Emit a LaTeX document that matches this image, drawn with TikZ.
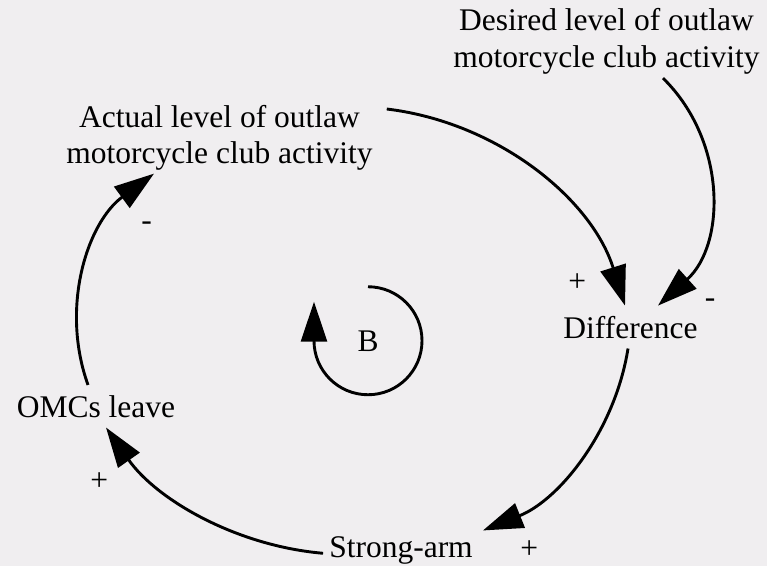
\documentclass[tikz,border=0pt]{standalone}
\usepackage{fontspec}
\setmainfont{Liberation Serif}
\usetikzlibrary{arrows.meta}
\definecolor{paper}{RGB}{240,238,240}
\tikzset{
  var/.style={font=\fontsize{31.5}{36.5}\selectfont, align=center, inner xsep=10pt, inner ysep=10pt},
  sign/.style={font=\fontsize{31.5}{36.5}\selectfont, inner sep=0pt},
  link/.style={line width=2.9pt, -{Triangle[length=40pt,width=26pt]}}
}
\begin{document}
\begin{tikzpicture}[x=1pt,y=-1pt]
  \useasboundingbox[fill=paper] (0,0) rectangle (767,566);
  \node[var,inner xsep=14pt,inner ysep=3pt] (actual) at (219.5,137.7) {Actual level of outlaw\\motorcycle club activity};
  \node[var,inner ysep=3pt] (desired) at (606.5,41.2) {Desired level of outlaw\\motorcycle club activity};
  \node[var,anchor=base] (diff) at (630.5,338) {Difference};
  \node[var,anchor=base] (strong) at (401,557) {Strong-arm};
  \node[var,anchor=base] (omc) at (96,417) {OMCs leave};
  \node[var,anchor=base] (loop) at (368,351) {B};
  \draw[link] ([yshift=28.7pt]actual.east) .. controls +(111.1,13.4) and +(-33.5,-106.8) .. ([xshift=-5.5pt]diff.north);
  \draw[link] ([xshift=56.5pt,yshift=-1pt]desired.south) .. controls +(64.6,63.5) and +(67.3,-60.6) .. ([xshift=27.5pt]diff.north);
  \draw[link] ([xshift=-2.5pt]diff.south) .. controls +(-13,81.9) and +(76.9,-30.9) .. ([yshift=-4.5pt]strong.north east);
  \draw[link] ([xshift=4pt,yshift=-3.3pt]strong.west) .. controls +(-87.4,-7.5) and +(50.3,71.8) .. ([xshift=10pt]omc.south);
  \draw[link] ([xshift=-8pt]omc.north) .. controls +(-28,-78) and +(-66.6,49) .. ([xshift=-65.5pt]actual.south);
  \draw[link] ([yshift=54pt]loop.center) arc[start angle=-90,end angle=180,radius=54] -- ++(0,-39);
  \node[sign] (s1) at (577.3,282.7) {+};
  \node[sign] (s2) at (710,302.7) {-};
  \node[sign] (s3) at (529.3,549.3) {+};
  \node[sign] (s4) at (99.3,481.7) {+};
  \node[sign] (s5) at (146.7,226) {-};
\end{tikzpicture}
\end{document}
